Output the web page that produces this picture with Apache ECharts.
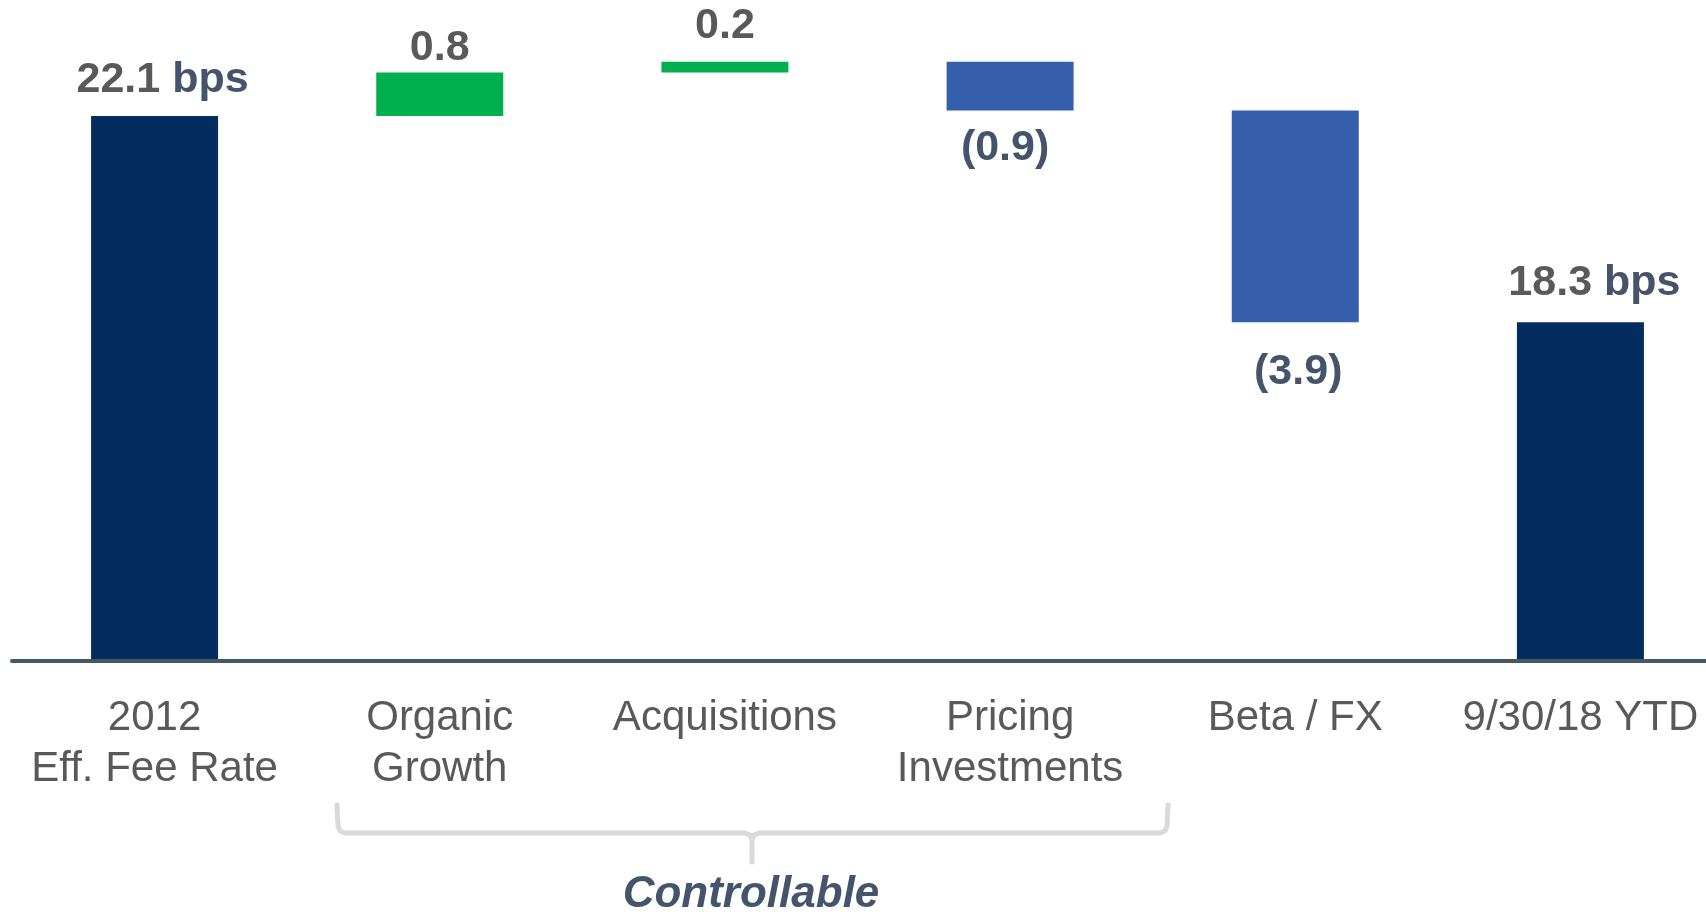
<!DOCTYPE html>
<html>
<head>
<meta charset="utf-8">
<title>Eff. Fee Rate bridge</title>
<script src="https://cdn.jsdelivr.net/npm/echarts@6/dist/echarts.min.js"></script>
<style>
  html, body { margin: 0; padding: 0; background: #fff; }
  #chart { width: 1706px; height: 912px; }
</style>
</head>
<body>
<div id="chart"></div>
<script>
// 类目 / 数值
const categories = ['2012\nEff. Fee Rate', 'Organic\nGrowth', 'Acquisitions', 'Pricing\nInvestments', 'Beta / FX', '9/30/18 YTD']
const barValues = [22.1, 0.8, 0.2, -0.9, -3.9, 18.3]
const isTotal = [true, false, false, false, false, true]
const labelGap = [14, 3, 14, 16, 28, 18]
const labelShift = [8, 0, 0, -5, 3, 14]

const colorTotal = '#022D5E'
const colorUp = '#00B050'
const colorDown = '#355EAB'
const textGray = '#595959'
const textSlate = '#44546A'
const fontName = '"Liberation Sans", Arial, sans-serif'

// 透明底座 + 可见部分
const baseData = []
const barData = []
let running = 0
barValues.forEach((v, i) => {
  if (isTotal[i]) {
    baseData.push(0)
    barData.push(v)
    running = v
  } else if (v >= 0) {
    baseData.push(running)
    barData.push(v)
    running = Math.round((running + v) * 10) / 10
  } else {
    running = Math.round((running + v) * 10) / 10
    baseData.push(running)
    barData.push(-v)
  }
})

const visibleData = barData.map((val, i) => {
  const v = barValues[i]
  const down = !isTotal[i] && v < 0
  let color = colorUp
  if (isTotal[i]) color = colorTotal
  else if (down) color = colorDown
  return {
    value: val,
    itemStyle: { color: color },
    label: {
      show: true,
      position: down ? 'bottom' : 'top',
      distance: labelGap[i],
      offset: [labelShift[i], 0],
      color: down ? textSlate : textGray,
      formatter: function() {
        if (isTotal[i]) return '{n|' + v.toFixed(1) + '} {u|bps}'
        if (down) return '(' + Math.abs(v).toFixed(1) + ')'
        return v.toFixed(1)
      }
    }
  }
})

const braceStyle = { fill: null, stroke: '#D9D9D9', lineWidth: 5, lineCap: 'round', lineJoin: 'round' }

const chart = echarts.init(document.getElementById('chart'))
chart.setOption({
  animation: false,
  grid: {
    top: 2,
    left: 12,
    width: 1711,
    bottom: 253,
    outerBoundsMode: 'none',
    containLabel: false
  },
  xAxis: {
    type: 'category',
    data: categories,
    offset: 2,
    axisLine: {
      lineStyle: { color: '#475865', width: 4 }
    },
    axisTick: { show: false },
    axisLabel: {
      interval: 0,
      margin: 32,
      color: textGray,
      fontFamily: fontName,
      fontSize: 42,
      lineHeight: 51
    }
  },
  yAxis: {
    type: 'value',
    min: 12.1,
    max: 24.2,
    show: false,
    splitLine: { show: false }
  },
  series: [
    {
      name: 'base',
      type: 'bar',
      stack: 'total',
      silent: true,
      barWidth: 127,
      itemStyle: { color: 'transparent' },
      data: baseData
    },
    {
      name: 'value',
      type: 'bar',
      stack: 'total',
      barWidth: 127,
      label: {
        fontFamily: fontName,
        fontSize: 43,
        fontWeight: 'bold',
        rich: {
          n: { color: textGray, fontFamily: fontName, fontSize: 43, fontWeight: 'bold' },
          u: { color: textSlate, fontFamily: fontName, fontSize: 43, fontWeight: 'bold' }
        }
      },
      data: visibleData
    }
  ],
  graphic: [
    {
      type: 'polyline',
      shape: {
        points: [[337, 805], [338, 826], [340, 831], [345, 833], [745, 833], [750, 835], [752, 840], [752, 862]]
      },
      style: braceStyle
    },
    {
      type: 'polyline',
      shape: {
        points: [[752, 840], [754, 835], [759, 833], [1160, 833], [1165, 831], [1167, 826], [1168, 805]]
      },
      style: braceStyle
    },
    {
      type: 'text',
      x: 751,
      y: 895,
      style: {
        text: 'Controllable',
        align: 'center',
        verticalAlign: 'middle',
        font: 'italic bold 44px ' + fontName,
        fill: textSlate
      }
    }
  ]
})
</script>
</body>
</html>
